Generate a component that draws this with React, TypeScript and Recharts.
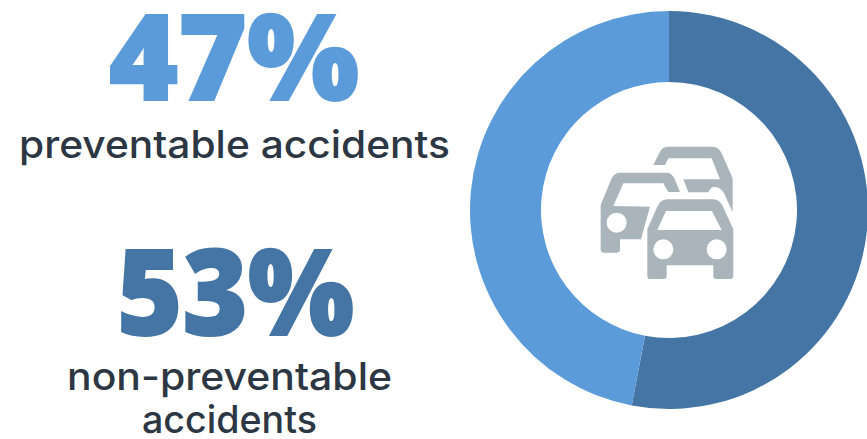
import React from "react";
import { Cell, Pie, PieChart } from "recharts";

const categories = ["non-preventable", "preventable"];
const shareValues = [53, 47];
const sliceColors = ["#4475a4", "#5b9bd9"];

const INK = "#2c3743";
const ICON_GREY = "#a9b4bb";
const BODY_FONT = "Inter, 'Noto Sans', sans-serif";
const HEAD_FONT = "'Open Sans', Inter, sans-serif";

const pieData = categories.map((name, i) => ({ name, value: shareValues[i] }));

// Three cars in traffic, drawn on a 3x grid and scaled down
const TrafficIcon = () => (
  <g transform="translate(580 130) scale(0.3333)" fill={ICON_GREY}>
    <path d="M220 105 L240 65 Q248 50 265 50 L400 50 Q416 50 425 70 L458 145 L458 246 L440 208 Q430 172 404 170 Q390 172 385 187 L325 187 L310 148 L420 148 L395 85 L265 85 L255 105 Z" />
    <path
      fillRule="evenodd"
      d="M62 225 L95 145 Q103 128 120 128 L260 128 Q275 128 283 145 L300 186 L265 186 L250 160 L130 160 L100 228 L210 230 L183 328 L120 328 L120 358 Q120 368 110 368 L70 368 Q62 368 62 358 Z M140 278 A30 30 0 1 0 80 278 A30 30 0 1 0 140 278 Z"
    />
    <path
      fillRule="evenodd"
      d="M202 298 L232 230 Q243 208 262 208 L400 208 Q418 208 428 228 L460 298 L460 437 Q460 447 450 447 L410 447 Q400 447 400 437 L400 406 L260 406 L260 437 Q260 447 250 447 L210 447 Q202 447 202 437 Z M258 243 L232 300 L425 300 L396 243 Z M280 358 A30 30 0 1 0 220 358 A30 30 0 1 0 280 358 Z M440 358 A30 30 0 1 0 380 358 A30 30 0 1 0 440 358 Z"
    />
  </g>
);

const headStyle = { fontFamily: HEAD_FONT, fontWeight: 800, fontSize: 119, strokeWidth: 2, lengthAdjust: "spacingAndGlyphs" } as const;
const bodyStyle = { fontFamily: BODY_FONT, fontWeight: 500, fontSize: 38, fill: INK, lengthAdjust: "spacingAndGlyphs" } as const;

const App = () => (
  <div style={{ position: "absolute", left: 0, top: 0, width: 867, height: 439, background: "#fff", overflow: "hidden" }}>
    <PieChart width={867} height={439} margin={{ top: 0, right: 0, bottom: 0, left: 0 }}>
      <Pie
        data={pieData}
        dataKey="value"
        nameKey="name"
        cx={669}
        cy={210}
        innerRadius={128}
        outerRadius={199}
        startAngle={90}
        endAngle={-270}
        stroke="none"
        isAnimationActive={false}
      >
        {pieData.map((d, i) => (
          <Cell key={d.name} fill={sliceColors[i]} />
        ))}
      </Pie>
      <TrafficIcon />
      <text x={109} y={100} {...headStyle} fill={sliceColors[1]} stroke={sliceColors[1]} textLength={250}>
        {`${shareValues[1]}%`}
      </text>
      <text x={19} y={158} {...bodyStyle} textLength={431}>
        {`${categories[1]} accidents`}
      </text>
      <text x={117} y={335} {...headStyle} fill={sliceColors[0]} stroke={sliceColors[0]} textLength={237}>
        {`${shareValues[0]}%`}
      </text>
      <text x={67} y={390} {...bodyStyle} textLength={325}>
        {categories[0]}
      </text>
      <text x={142} y={433} {...bodyStyle} textLength={175}>
        accidents
      </text>
    </PieChart>
  </div>
);

export default App;
